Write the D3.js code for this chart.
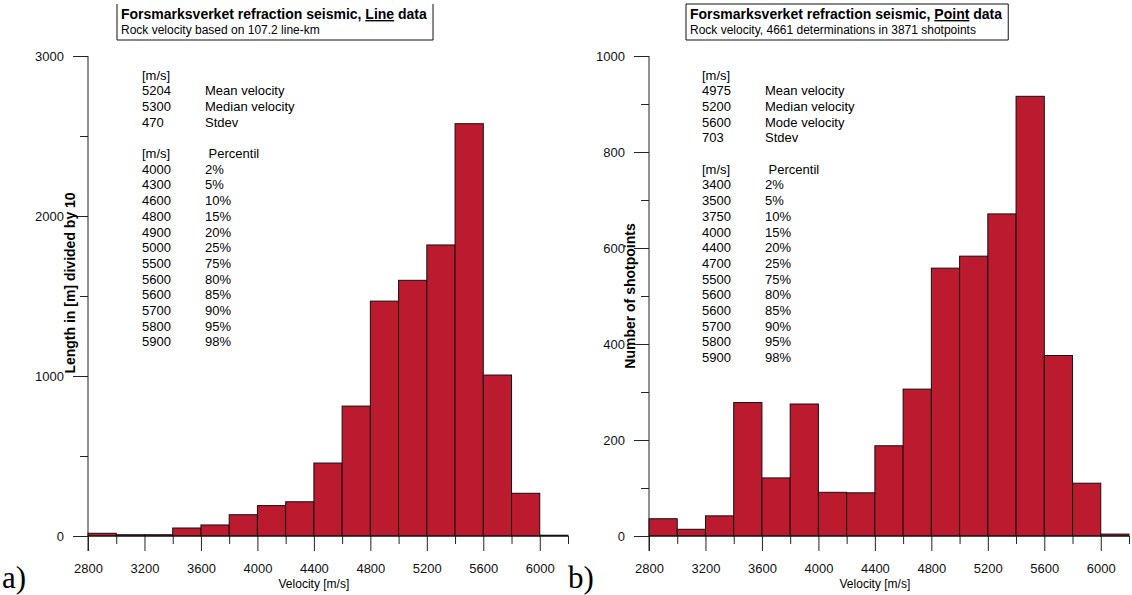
<!DOCTYPE html>
<html>
<head>
<meta charset="utf-8">
<script src="https://cdn.jsdelivr.net/npm/d3@7"></script>
<style>
  body { margin: 0; background: #fff; }
  svg { display: block; font-family: "Liberation Sans", Arial, sans-serif; }
</style>
</head>
<body>
<svg id="chart" width="1132" height="595"></svg>
<script>
// Histogram bins (lower edge of each 200 m/s class)
const binStarts = [2800, 3000, 3200, 3400, 3600, 3800, 4000, 4200, 4400, 4600, 4800, 5000, 5200, 5400, 5600, 5800, 6000];
const binWidth = 200;

// a) length in [m] divided by 10
const lineLength = [17, 8, 8, 50, 69, 133, 190, 214, 456, 812, 1468, 1598, 1819, 2577, 1006, 267, 5];
// b) number of shotpoints
const pointCount = [36, 14, 42, 278, 121, 275, 91, 90, 188, 306, 558, 583, 671, 916, 376, 110, 4];

const xTickLabels = [2800, 3200, 3600, 4000, 4400, 4800, 5200, 5600, 6000];
const lineYTicks = [0, 1000, 2000, 3000];
const pointYTicks = [0, 200, 400, 600, 800, 1000];

const lineSummary = [['5204', 'Mean velocity'], ['5300', 'Median velocity'], ['470', 'Stdev']];
const pointSummary = [['4975', 'Mean velocity'], ['5200', 'Median velocity'], ['5600', 'Mode velocity'], ['703', 'Stdev']];
const percentLabels = ['2%', '5%', '10%', '15%', '20%', '25%', '75%', '80%', '85%', '90%', '95%', '98%'];
const linePercentiles = [4000, 4300, 4600, 4800, 4900, 5000, 5500, 5600, 5600, 5700, 5800, 5900];
const pointPercentiles = [3400, 3500, 3750, 4000, 4400, 4700, 5500, 5600, 5600, 5700, 5800, 5900];

const barColor = '#bc1a2f';
const svg = d3.select('#chart');

function drawPanel(opt) {
  const g = svg.append('g');

  const x = d3.scaleLinear().domain([2800, 6200]).range([opt.left, opt.left + 480]);
  const y = d3.scaleLinear().domain([0, opt.yMax]).range([536, 56]);

  // bars
  g.selectAll('.bar')
    .data(binStarts)
    .enter()
    .append('rect')
    .attr('x', d => x(d))
    .attr('y', (d, i) => y(opt.values[i]))
    .attr('width', x(binWidth) - x(0))
    .attr('height', (d, i) => y(0) - y(opt.values[i]))
    .attr('fill', barColor)
    .attr('stroke', '#111')
    .attr('stroke-width', 1);

  // y axis: labelled major ticks + short minor ticks
  const yMajor = g.append('g')
    .attr('transform', `translate(${opt.left},0)`)
    .call(d3.axisLeft(y).tickValues(opt.yTicks).tickSize(15).tickPadding(9)
      .tickFormat(d3.format('d')).tickSizeOuter(0));
  const minorY = opt.yTicks.slice(1).map((v, i) => (v + opt.yTicks[i]) / 2);
  const yMinor = g.append('g')
    .attr('transform', `translate(${opt.left},0)`)
    .call(d3.axisLeft(y).tickValues(minorY).tickSize(8).tickFormat(''));

  // x axis
  const xMajor = g.append('g')
    .attr('transform', 'translate(0,536)')
    .call(d3.axisBottom(x).tickValues(xTickLabels).tickSize(15).tickPadding(13)
      .tickFormat(d3.format('d')).tickSizeOuter(0));
  const xMinor = g.append('g')
    .attr('transform', 'translate(0,536)')
    .call(d3.axisBottom(x).tickValues(binStarts.filter(v => v % 400 !== 0).concat([6200])).tickSize(8).tickFormat(''));

  [yMajor, yMinor, xMajor, xMinor].forEach(a => {
    a.select('.domain').remove();
    a.selectAll('line').attr('stroke', '#222');
    a.selectAll('text').attr('fill', '#111').style('font-size', '13px').style('font-family', '"Liberation Sans", Arial, sans-serif');
  });

  g.append('line')
    .attr('x1', opt.left).attr('x2', opt.left)
    .attr('y1', 56).attr('y2', 551)
    .attr('stroke', '#222');
  g.append('line')
    .attr('x1', opt.left).attr('x2', opt.left + 480)
    .attr('y1', 536).attr('y2', 536)
    .attr('stroke', '#111');

  g.append('text')
    .attr('x', (x(2800) + x(6000)) / 2)
    .attr('y', 588)
    .attr('text-anchor', 'middle')
    .style('font-size', '12px')
    .text('Velocity [m/s]');

  g.append('text')
    .attr('transform', `translate(${opt.yTitleX},${opt.yTitleY}) rotate(-90)`)
    .attr('text-anchor', 'middle')
    .attr('dy', '0.35em')
    .style('font-size', '14px')
    .style('font-weight', 'bold')
    .text(opt.yTitle);

  // statistics block
  const rows = [['[m/s]', '']].concat(opt.summary, [null, ['[m/s]', ' Percentil']],
    opt.percentiles.map((v, i) => [String(v), percentLabels[i]]));
  rows.forEach((r, i) => {
    if (!r) return;
    const ry = 75 + i * 15.7;
    g.append('text').attr('x', opt.statX).attr('y', ry).attr('dy', '0.35em')
      .style('font-size', '13px').text(r[0]);
    g.append('text').attr('x', opt.statX + 63).attr('y', ry).attr('dy', '0.35em')
      .style('font-size', '13px').style('white-space', 'pre').attr('xml:space', 'preserve').text(r[1]);
  });

  // title box
  const tb = g.append('g');
  const t1 = tb.append('text').attr('x', opt.boxX + 4).attr('y', 19)
    .style('font-size', '14px').style('font-weight', 'bold');
  t1.append('tspan').text('Forsmarksverket refraction seismic, ');
  t1.append('tspan').attr('text-decoration', 'underline').text(opt.kind);
  t1.append('tspan').text(' data');
  const t2 = tb.append('text').attr('x', opt.boxX + 4).attr('y', 34)
    .style('font-size', '12px').text(opt.subtitle);
  const w = Math.max(t1.node().getBBox().width, t2.node().getBBox().width) + 10;
  const bx = opt.boxX, bt = 4, bb = 40;
  const path = opt.openTop
    ? `M${bx},${bt}V${bb}H${bx + w}V${bt}`
    : `M${bx},${bt}V${bb}H${bx + w}V${bt}Z`;
  tb.insert('path', 'text').attr('d', path).attr('fill', '#fff').attr('stroke', '#111').attr('stroke-width', 1);

  g.append('text')
    .attr('x', opt.tagX)
    .attr('y', 588)
    .style('font-family', '"Liberation Serif", "Times New Roman", serif')
    .style('font-size', '31px')
    .text(opt.tag);
}

drawPanel({
  left: 88, yMax: 3000, values: lineLength, yTicks: lineYTicks,
  yTitle: 'Length in [m] divided by 10', yTitleX: 70, yTitleY: 283,
  summary: lineSummary, percentiles: linePercentiles, statX: 142,
  boxX: 117, kind: 'Line', subtitle: 'Rock velocity based on 107.2 line-km', openTop: true,
  tag: 'a)', tagX: 2
});

drawPanel({
  left: 649, yMax: 1000, values: pointCount, yTicks: pointYTicks,
  yTitle: 'Number of shotpoints', yTitleX: 630, yTitleY: 296,
  summary: pointSummary, percentiles: pointPercentiles, statX: 702,
  boxX: 686, kind: 'Point', subtitle: 'Rock velocity, 4661 determinations in 3871 shotpoints', openTop: false,
  tag: 'b)', tagX: 568
});
</script>
</body>
</html>
